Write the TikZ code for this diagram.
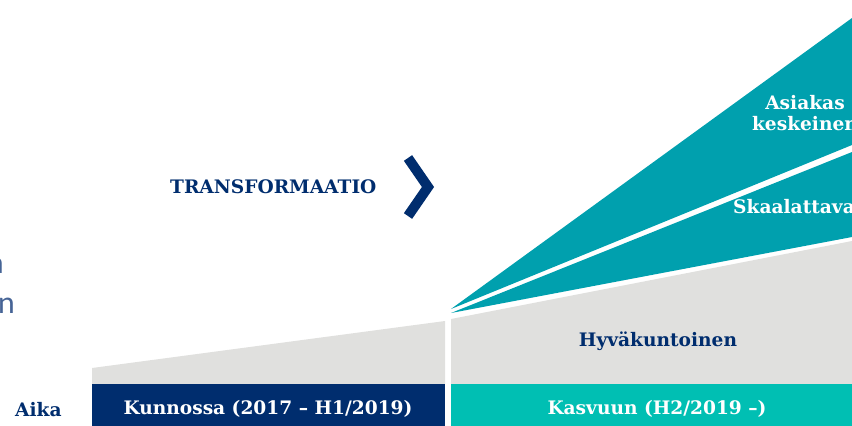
\documentclass[tikz,border=0pt]{standalone}
\usepackage{fontspec}
\setmainfont{DejaVu Serif}
\newfontfamily\thinfont{Lato}
\usetikzlibrary{positioning}
\definecolor{navy}{RGB}{0,45,110}
\definecolor{wedgeteal}{RGB}{0,160,174}
\definecolor{barteal}{RGB}{0,191,179}
\definecolor{lightgrey}{RGB}{224,224,222}
\definecolor{slate}{RGB}{70,100,150}

\begin{document}
\begin{tikzpicture}[x=1pt, y=-1pt,
  lbl/.style={font=\bfseries\fontsize{18.6}{20.5}\selectfont, text=navy, inner sep=0pt, align=center},
  barlbl/.style={lbl, text=white},
  wedgelbl/.style={lbl, text=white},
  cut/.style={font=\thinfont\fontsize{30}{34}\selectfont, text=slate, inner sep=0pt}
]
\useasboundingbox (0,0) rectangle (852,426);

% grey blocks
\fill[lightgrey] (92,368) -- (445,321) -- (445,384) -- (92,384) -- cycle;
\fill[lightgrey] (451,319) -- (852,241) -- (852,384) -- (451,384) -- cycle;

% teal wedges
\fill[wedgeteal] (451,309) -- (852,18) -- (852,145) -- cycle;
\fill[wedgeteal] (451,313) -- (852,152) -- (852,237) -- cycle;

% time bars
\fill[navy] (92,384) rectangle (445,426);
\fill[barteal] (451,384) rectangle (852,426);

% chevron
\draw[navy, line width=10pt] (408,158) -- (428,187) -- (408,216);

\node[lbl, anchor=west] (transf) at (170,187) {TRANSFORMAATIO};
\node[wedgelbl] (asiakas) at (805,113) {Asiakas\\keskeinen};
\node[wedgelbl, anchor=west] (skaal) at (733,207) {Skaalattava};
\node[lbl] (hyva) at (658,341) {Hyväkuntoinen};
\node[lbl, anchor=west] (aika) at (15,410) {Aika};
\node[barlbl] (kunnossa) at (268,409) {Kunnossa (2017 – H1/2019)};
\node[barlbl] (kasvuun) at (657,409) {Kasvuun (H2/2019 –)};

% cut-off text at the left edge
\node[cut, anchor=east] (cuta) at (4,266) {a};
\node[cut, anchor=east] (cutn) at (15,306) {n};
\end{tikzpicture}
\end{document}
